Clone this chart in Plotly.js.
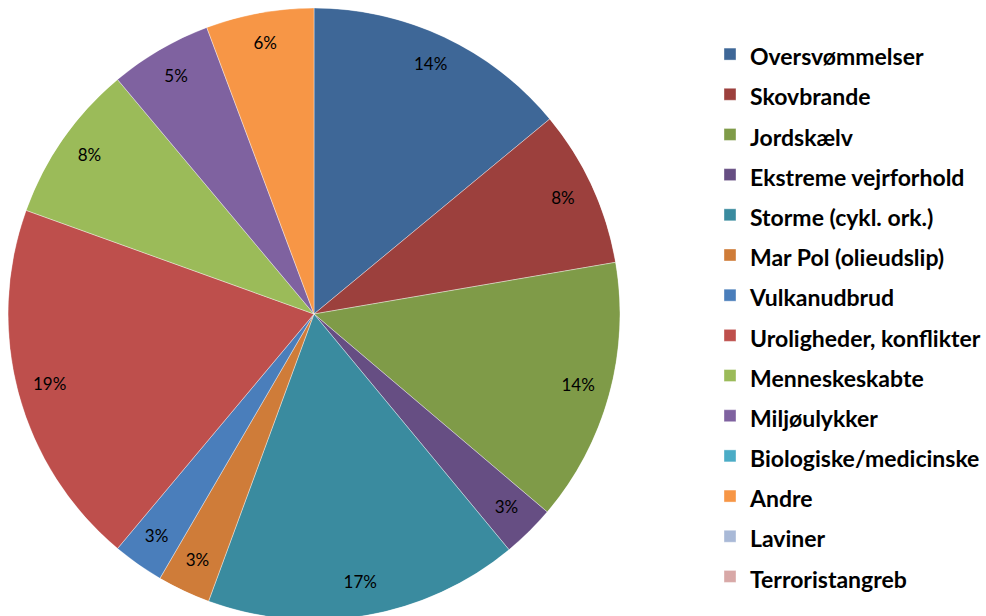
<!DOCTYPE html>
<html>
<head>
<meta charset="utf-8">
<script src="https://cdn.plot.ly/plotly-3.0.1.min.js"></script>
<style>html,body{margin:0;padding:0;overflow:hidden;background:#fff;}</style>
</head>
<body>
<div id="chart"></div>
<script>
const categories = ["Oversvømmelser","Skovbrande","Jordskælv","Ekstreme vejrforhold","Storme (cykl. ork.)","Mar Pol (olieudslip)","Vulkanudbrud","Uroligheder, konflikter","Menneskeskabte","Miljøulykker","Biologiske/medicinske","Andre","Laviner","Terroristangreb"];
const shares = [14.0, 8.3, 13.9, 2.8, 16.6, 2.8, 2.7, 19.4, 8.4, 5.4, 0, 5.7, 0, 0];
const sliceColors = ["#3E6797","#9C403D","#7F9B48","#664E83","#3A8B9F","#CF7C39","#4A7EBB","#BE4F4C","#9BBB59","#7F62A0","#4BACC6","#F79646","#A9B9D7","#D8A8A7"];

const W = 986, H = 624;
const cx = 314, cy = 314, R = 306;
const dom = {x:[(cx-R)/W,(cx+R)/W], y:[1-(cy+R)/H, 1-(cy-R)/H]};

const total = shares.reduce((a,b)=>a+b,0);
let cum = 0;
const midAngles = [], spans = [], pctText = [];
shares.forEach(v => {
  spans.push(v/total*360);
  midAngles.push((cum + v/2)/total*360);
  cum += v;
  pctText.push(v > 0 ? Math.round(v/total*100) + "%" : "");
});

const traces = categories.map((c, i) => ({
  type: "barpolar",
  name: '<span style="font-size:23px">' + c + '</span>',
  r: [1],
  base: [0],
  theta: [midAngles[i]],
  width: [spans[i]],
  marker: {color: sliceColors[i], line: {color: "rgba(255,255,255,0.55)", width: 0.7}},
  hoverinfo: "name"
}));

traces.push({
  type: "scatterpolar",
  mode: "text",
  r: shares.map(() => 0.895),
  theta: midAngles,
  text: pctText,
  textfont: {family: "Lato, 'Open Sans', sans-serif", size: 17, color: "#000"},
  textposition: "middle center",
  showlegend: false,
  hoverinfo: "skip",
  cliponaxis: false
});

const layout = {
  width: W, height: H,
  margin: {l:0, r:0, t:0, b:0, autoexpand:false},
  paper_bgcolor: "#fff",
  showlegend: true,
  polar: {
    domain: dom,
    bgcolor: "rgba(0,0,0,0)",
    radialaxis: {visible:false, range:[0,1]},
    angularaxis: {visible:false, rotation:90, direction:"clockwise"}
  },
  legend: {
    x: 710/W, xanchor: "left",
    y: 1 - 29/H, yanchor: "top",
    font: {family: "Lato, 'Open Sans', sans-serif", size: 28.6, weight: "bold", color: "#000"},
    bgcolor: "rgba(0,0,0,0)",
    traceorder: "normal"
  }
};

Plotly.newPlot("chart", traces, layout, {staticPlot: true});
</script>
</body>
</html>
